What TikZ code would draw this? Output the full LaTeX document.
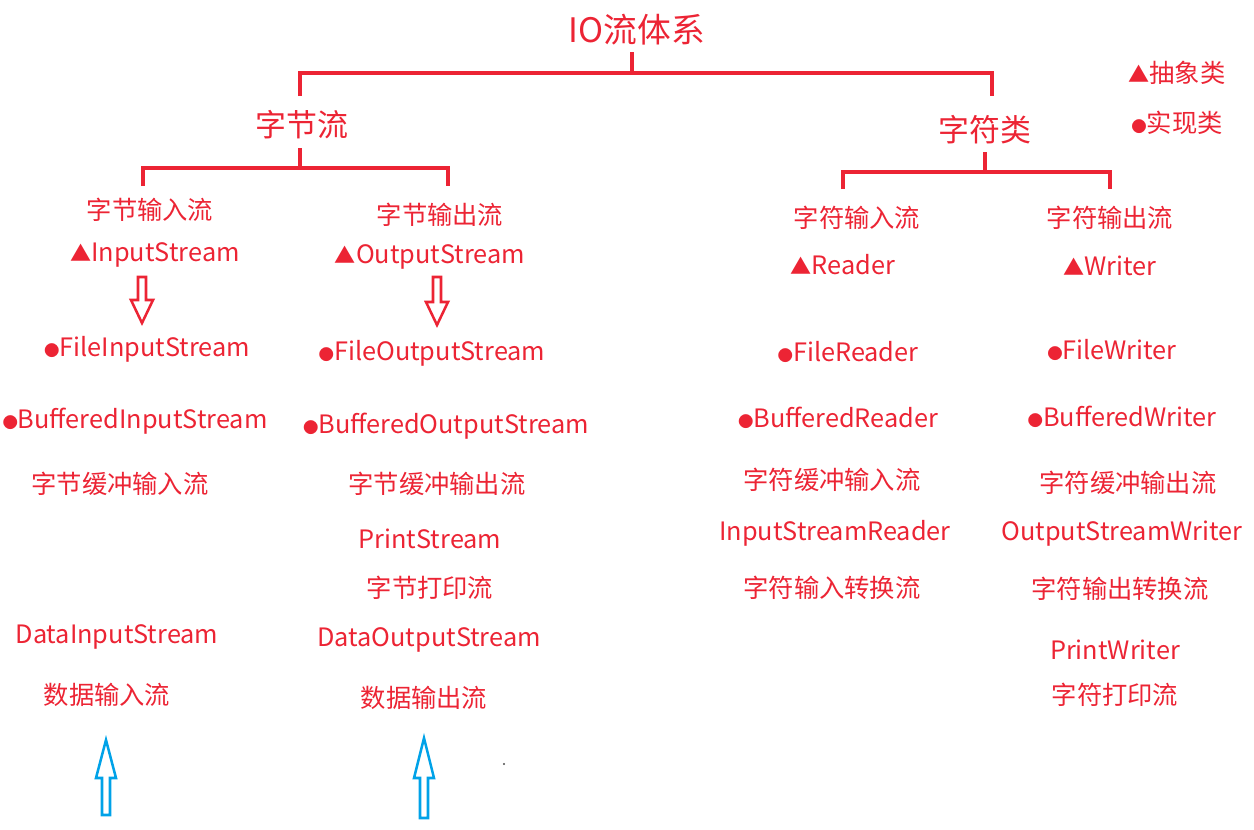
\documentclass[tikz,border=0pt]{standalone}
\usepackage{fontspec}
\setmainfont{Noto Sans CJK SC}
\definecolor{iored}{RGB}{236,36,52}
\definecolor{ioblue}{RGB}{0,162,232}
\newcommand{\dotmark}{{\fontsize{11}{12}\selectfont ●}}
\newcommand{\trimark}{{\fontsize{15}{16}\selectfont ▲}}

\begin{document}
\begin{tikzpicture}[x=0.025cm, y=-0.025cm,
  txt/.style={text=iored, inner sep=1pt, font=\fontsize{18}{20}\selectfont},
  head/.style={text=iored, inner sep=1pt, font=\fontsize{22}{24}\selectfont},
  link/.style={draw=iored, line width=2.4pt},
  redarrow/.style={draw=iored, line width=1.8pt, line join=miter},
  bluearrow/.style={draw=ioblue, line width=1.8pt, line join=miter}]
\useasboundingbox (0,0) rectangle (1254,829);
% titles
\node[head, font=\fontsize{24}{26}\selectfont] (root) at (637,30) {IO流体系};
\node[head] (byte) at (302,125) {字节流};
\node[head] (char) at (985,130) {字符类};
% legend
\node[txt] (abs) at (1177,73) {\trimark 抽象类};
\node[txt] (impl) at (1177,123) {\dotmark 实现类};
% brackets
\coordinate (rootStem) at (632,52);
\coordinate (byteLeg) at (300,96);
\coordinate (charLeg) at (992,96);
\draw[link] (rootStem) -- ++(0,21);
\draw[link] (byteLeg) -- ++(0,-23) -| (charLeg);
\coordinate (byteStem) at (300,148);
\coordinate (byteInLeg) at (143,186);
\coordinate (byteOutLeg) at (448,186);
\draw[link] (byteStem) -- ++(0,20);
\draw[link] (byteInLeg) -- ++(0,-18) -| (byteOutLeg);
\coordinate (charStem) at (985,152);
\coordinate (charInLeg) at (843,189);
\coordinate (charOutLeg) at (1110,189);
\draw[link] (charStem) -- ++(0,20);
\draw[link] (charInLeg) -- ++(0,-17) -| (charOutLeg);
% byte input
\node[txt] (bin) at (150,210) {字节输入流};
\node[txt] (bin1) at (155,255) {\trimark InputStream};
\node[txt] (bin2) at (147,349) {\dotmark FileInputStream};
\node[txt] (bin3) at (135,421) {\dotmark BufferedInputStream};
\node[txt] (bin4) at (120,484) {字节缓冲输入流};
\node[txt] (bin5) at (117,637) {DataInputStream};
\node[txt] (bin6) at (107,695) {数据输入流};
% byte output
\node[txt] (bout) at (440,215) {字节输出流};
\node[txt] (bout1) at (430,257) {\trimark OutputStream};
\node[txt] (bout2) at (432,353) {\dotmark FileOutputStream};
\node[txt] (bout3) at (446,426) {\dotmark BufferedOutputStream};
\node[txt] (bout4) at (437,484) {字节缓冲输出流};
\node[txt] (bout5) at (430,539) {PrintStream};
\node[txt] (bout6) at (430,588) {字节打印流};
\node[txt] (bout7) at (429,640) {DataOutputStream};
\node[txt] (bout8) at (424,698) {数据输出流};
% char input
\node[txt] (cin) at (857,218) {字符输入流};
\node[txt] (cin1) at (843,265) {\trimark Reader};
\node[txt] (cin2) at (848,352) {\dotmark FileReader};
\node[txt] (cin3) at (838,418) {\dotmark BufferedReader};
\node[txt] (cin4) at (832,480) {字符缓冲输入流};
\node[txt] (cin5) at (835,533) {InputStreamReader};
\node[txt] (cin6) at (832,588) {字符输入转换流};
% char output
\node[txt] (cout) at (1110,218) {字符输出流};
\node[txt] (cout1) at (1110,266) {\trimark Writer};
\node[txt] (cout2) at (1112,350) {\dotmark FileWriter};
\node[txt] (cout3) at (1122,417) {\dotmark BufferedWriter};
\node[txt] (cout4) at (1128,483) {字符缓冲输出流};
\node[txt] (cout5) at (1122,534) {OutputStreamWriter};
\node[txt] (cout6) at (1120,589) {字符输出转换流};
\node[txt] (cout7) at (1115,650) {PrintWriter};
\node[txt] (cout8) at (1115,695) {字符打印流};
% hollow arrows
\draw[redarrow] (138,277) -- (138,300) -- (131,300) -- (142,323) -- (153,300)
  -- (146,300) -- (146,277) -- cycle;
\draw[redarrow] (433,277) -- (433,302) -- (426,302) -- (437,325) -- (448,302)
  -- (441,302) -- (441,277) -- cycle;
\draw[bluearrow] (102,815) -- (102,778) -- (96,778) -- (106,740) -- (116,778)
  -- (110,778) -- (110,815) -- cycle;
\draw[bluearrow] (420,818) -- (420,778) -- (414,778) -- (424,738) -- (434,778)
  -- (428,778) -- (428,818) -- cycle;
\fill[black!70] (504,764) circle (1.2);
\end{tikzpicture}
\end{document}
